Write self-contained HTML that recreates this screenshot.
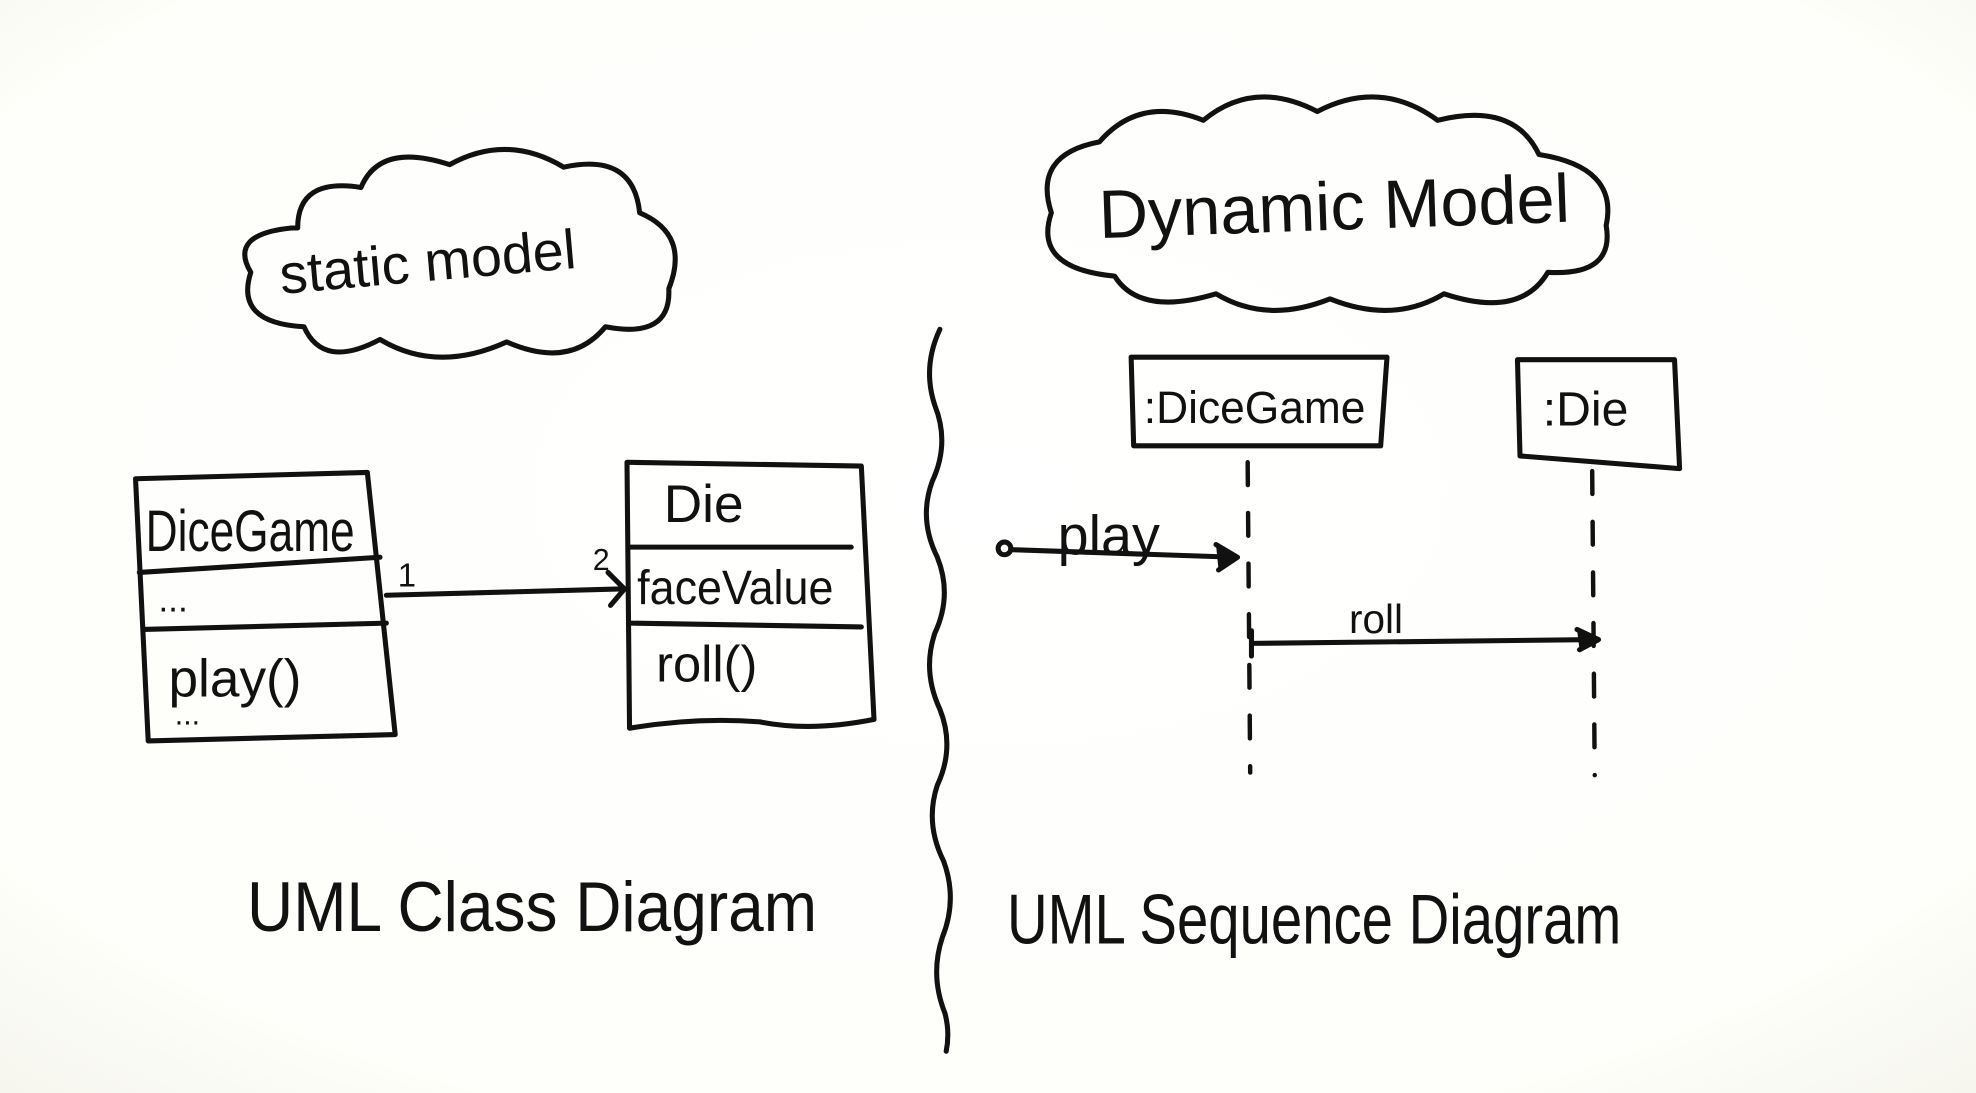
<!DOCTYPE html>
<html><head><meta charset="utf-8"><style>
html,body{margin:0;padding:0;background:#fefefb;}
svg{display:block;}
text{font-family:"Liberation Sans",sans-serif;fill:#111;}
</style></head><body>
<svg width="1976" height="1093" viewBox="0 0 1560 863" preserveAspectRatio="none" xmlns="http://www.w3.org/2000/svg">
<defs>
<radialGradient id="bg" cx="50%" cy="45%" r="80%">
<stop offset="0" stop-color="#ffffff"/><stop offset="0.75" stop-color="#fefefa"/><stop offset="1" stop-color="#f3f3ea"/>
</radialGradient>
</defs>
<rect width="1560" height="863" fill="url(#bg)"/>
<g fill="none" stroke="#111" stroke-width="4" stroke-linecap="round" stroke-linejoin="round">
<path d="M235,180 Q235,140 285,148 Q300,112 355,130 Q400,105 445,132 Q500,120 505,168 Q545,185 528,228 Q530,268 478,258 Q450,292 400,270 Q345,295 300,268 Q255,292 240,258 Q185,255 198,215 Q180,185 230,180 Z"/>
<path d="M868,112 Q900,75 950,95 Q990,62 1040,88 Q1090,62 1135,95 Q1195,80 1215,122 Q1278,132 1268,178 Q1275,218 1222,215 Q1200,252 1140,232 Q1100,256 1050,236 Q1000,256 960,232 Q900,250 880,218 Q815,212 830,168 Q815,122 868,112 Z"/>
<path d="M742,260 Q728,290 738,320 Q750,350 736,380 Q725,410 740,440 Q752,470 738,500 Q728,530 742,560 Q754,590 740,620 Q730,650 745,680 Q756,710 744,740 Q734,770 746,800 Q750,815 747,830"/>
<path d="M107,378 L290,373 L312,580 L117,585 Z"/>
<line x1="110" y1="452" x2="300" y2="440"/>
<line x1="113" y1="497" x2="305" y2="492"/>
<path d="M495,365 L680,368 L690,568 Q640,578 600,570 Q550,566 497,575 Z"/>
<line x1="496" y1="432" x2="672" y2="432"/>
<line x1="497" y1="492" x2="680" y2="495"/>
<path d="M305,470 L490,465"/>
<path d="M480,452 L493,465 L482,478"/>
<path d="M893,282 L1095,282 L1090,352 L895,352 Z"/>
<path d="M1198,284 L1322,284 L1326,370 L1200,360 Z"/>
<line x1="985" y1="365" x2="987" y2="610" stroke-dasharray="18,22" stroke-width="3.5"/>
<line x1="1257" y1="372" x2="1259" y2="612" stroke-dasharray="18,22" stroke-width="3.5"/>
<circle cx="793" cy="433" r="5"/>
<path d="M798,434 L975,440"/>
<path d="M960,430 L977,440 L962,450" fill="#111"/>
<path d="M988,498 L988,518"/>
<path d="M988,508 L1260,505"/>
<path d="M1245,497 L1262,505 L1247,513" fill="#111"/>
</g>
<text x="222" y="232" font-size="44" transform="rotate(-5 222 232)">static model</text>
<text x="868" y="188" font-size="54" transform="rotate(-2 868 188)">Dynamic Model</text>
<text x="115" y="435" font-size="46" textLength="165" lengthAdjust="spacingAndGlyphs">DiceGame</text>
<text x="125" y="483" font-size="28">...</text>
<text x="133" y="550" font-size="42">play()</text>
<text x="138" y="572" font-size="24">...</text>
<text x="524" y="412" font-size="42">Die</text>
<text x="503" y="477" font-size="38" textLength="155" lengthAdjust="spacingAndGlyphs">faceValue</text>
<text x="518" y="538" font-size="40">roll()</text>
<text x="314" y="463" font-size="26">1</text>
<text x="468" y="450" font-size="24">2</text>
<text x="903" y="334" font-size="36" textLength="175" lengthAdjust="spacingAndGlyphs">:DiceGame</text>
<text x="1218" y="336" font-size="38">:Die</text>
<text x="835" y="438" font-size="44">play</text>
<text x="1065" y="500" font-size="32">roll</text>
<text x="195" y="735" font-size="56" textLength="450" lengthAdjust="spacingAndGlyphs">UML Class Diagram</text>
<text x="795" y="745" font-size="56" textLength="485" lengthAdjust="spacingAndGlyphs">UML Sequence Diagram</text>
</svg>
</body></html>
